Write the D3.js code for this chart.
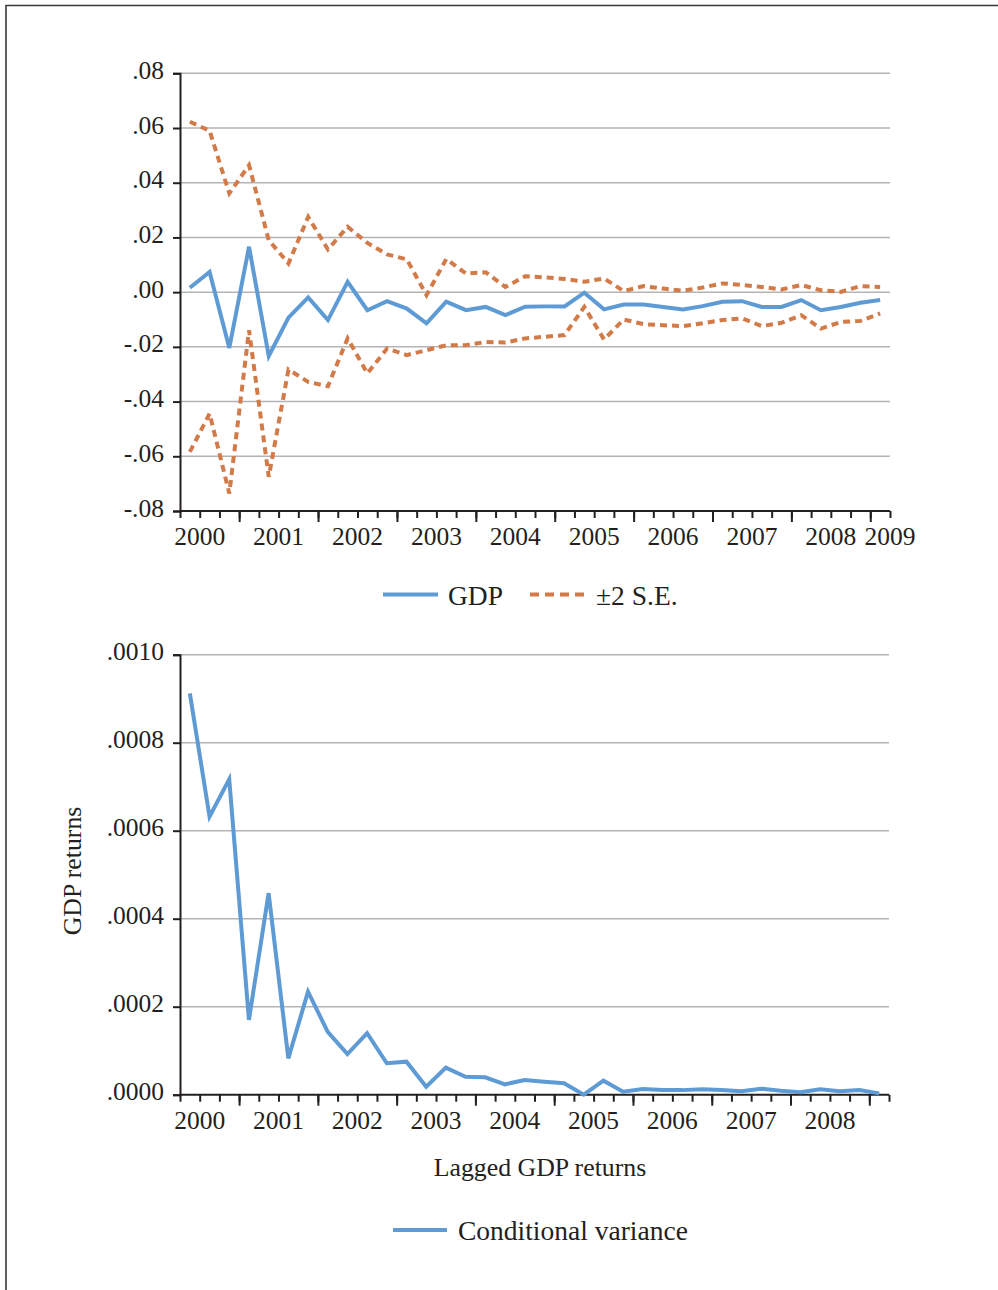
<!DOCTYPE html>
<html>
<head>
<meta charset="utf-8">
<script src="https://cdn.jsdelivr.net/npm/d3@7"></script>
<style>
  html, body { margin: 0; padding: 0; background: #fff; }
  svg { display: block; }
  text { font-family: "Liberation Serif", "Times New Roman", serif; fill: #231f20; }
</style>
</head>
<body>
<svg id="chart" width="998" height="1290"></svg>
<script>
// ---- Data (quarterly, 2000Q2 .. 2009Q1) ----
const quarters = [
  "2000Q2","2000Q3","2000Q4",
  "2001Q1","2001Q2","2001Q3","2001Q4",
  "2002Q1","2002Q2","2002Q3","2002Q4",
  "2003Q1","2003Q2","2003Q3","2003Q4",
  "2004Q1","2004Q2","2004Q3","2004Q4",
  "2005Q1","2005Q2","2005Q3","2005Q4",
  "2006Q1","2006Q2","2006Q3","2006Q4",
  "2007Q1","2007Q2","2007Q3","2007Q4",
  "2008Q1","2008Q2","2008Q3","2008Q4",
  "2009Q1"
];
const gdp = [
  0.0016, 0.0074, -0.0204, 0.0166, -0.0234, -0.0093, -0.0019, -0.0102,
  0.0038, -0.0066, -0.0033, -0.0060, -0.0114, -0.0035, -0.0066, -0.0054,
  -0.0084, -0.0053, -0.0052, -0.0052, -0.0002, -0.0063, -0.0045, -0.0045,
  -0.0054, -0.0063, -0.0051, -0.0035, -0.0033, -0.0054, -0.0054, -0.0029,
  -0.0066, -0.0054, -0.0039, -0.0029
];
const upperSE = [
  0.0623, 0.0590, 0.0361, 0.0464, 0.0190, 0.0105, 0.0275, 0.0156,
  0.0239, 0.0180, 0.0138, 0.0120, -0.0011, 0.0121, 0.0068, 0.0073,
  0.0019, 0.0058, 0.0054, 0.0048, 0.0038, 0.0050, 0.0004, 0.0022,
  0.0013, 0.0005, 0.0017, 0.0032, 0.0026, 0.0019, 0.0010, 0.0026,
  0.0007, 0.0001, 0.0022, 0.0019
];
const lowerSE = [
  -0.0584, -0.0444, -0.0736, -0.0139, -0.0675, -0.0283, -0.0328, -0.0344,
  -0.0169, -0.0297, -0.0206, -0.0230, -0.0212, -0.0194, -0.0194, -0.0182,
  -0.0184, -0.0169, -0.0163, -0.0157, -0.0054, -0.0173, -0.0100, -0.0117,
  -0.0121, -0.0124, -0.0114, -0.0102, -0.0096, -0.0124, -0.0112, -0.0084,
  -0.0133, -0.0109, -0.0105, -0.0078
];
const condVar = [
  0.000912, 0.000632, 0.000717, 0.000170, 0.000458, 0.0000827, 0.000234, 0.000143,
  0.0000925, 0.000140, 0.0000714, 0.0000750, 0.0000182, 0.0000614, 0.0000409, 0.0000395,
  0.0000236, 0.0000334, 0.0000295, 0.0000259, 0.0000000, 0.0000318, 0.0000068, 0.0000130,
  0.0000107, 0.0000104, 0.0000123, 0.0000107, 0.0000077, 0.0000136, 0.0000090, 0.0000055,
  0.0000123, 0.0000077, 0.0000107, 0.0000030
];
const yearsTop = ["2000","2001","2002","2003","2004","2005","2006","2007","2008","2009"];
const yearsBottom = ["2000","2001","2002","2003","2004","2005","2006","2007","2008"];
const topTicks = [0.08, 0.06, 0.04, 0.02, 0.00, -0.02, -0.04, -0.06, -0.08];
const topTickLabels = [".08", ".06", ".04", ".02", ".00", "-.02", "-.04", "-.06", "-.08"];
const botTicks = [0.0010, 0.0008, 0.0006, 0.0004, 0.0002, 0.0000];
const botTickLabels = [".0010", ".0008", ".0006", ".0004", ".0002", ".0000"];
const seriesNames = ["GDP", "\u00b12 S.E.", "Conditional variance"];
const axisTitles = ["GDP returns", "Lagged GDP returns"];

// ---- Styles ----
const BLUE = "#5e9bd5";
const ORANGE = "#d27b48";
const GRID = "#b4b4b4";
const AXIS = "#231f20";
const FS = 25.5;      // tick labels
const FS_TITLE = 25.8; // axis titles
const FS_LEG = 27.5;   // legend

const svg = d3.select("#chart");

// frame
svg.append("path")
  .attr("d", "M6,1290 L6,5.5 L998,5.5")
  .attr("fill", "none").attr("stroke", "#3a3a3a").attr("stroke-width", 1.6);

const n = quarters.length;

function drawPanel(opts) {
  const { top, bottom, left, right, yDomain, ticks, tickLabels, years, series } = opts;
  const g = svg.append("g");
  const xPos = d3.scaleLinear().domain([0, n]).range([left, right]);
  const y = d3.scaleLinear().domain(yDomain).range([bottom, top]);

  // gridlines
  g.append("g").selectAll("line")
    .data(ticks.filter(t => t !== yDomain[0]))
    .join("line")
    .attr("x1", left).attr("x2", right)
    .attr("y1", d => y(d)).attr("y2", d => y(d))
    .attr("stroke", GRID).attr("stroke-width", 1.5);

  // y axis
  const yAxis = d3.axisLeft(y).tickValues(ticks)
    .tickFormat((d, i) => tickLabels[i]).tickSize(7).tickPadding(9);
  const ya = g.append("g").attr("transform", `translate(${left},0)`).call(yAxis);
  ya.select(".domain").attr("stroke", AXIS).attr("stroke-width", 2);
  ya.selectAll(".tick line").attr("stroke", AXIS).attr("stroke-width", 2);
  ya.selectAll(".tick text").attr("font-size", FS)
    .attr("font-family", "Liberation Serif").attr("fill", AXIS).attr("dy", "0.2em");

  // x axis: minor ticks at every quarter boundary, major at year start
  const boundaries = d3.range(0, n + 1);
  const yearStarts = boundaries.filter(k => quarters[k] && quarters[k].endsWith("Q1"));
  const xMinor = d3.axisBottom(xPos).tickValues(boundaries).tickSize(7).tickFormat("");
  const xMajor = d3.axisBottom(xPos).tickValues(yearStarts).tickSize(11).tickFormat("");
  const xa = g.append("g").attr("transform", `translate(0,${bottom})`).call(xMinor);
  xa.select(".domain").attr("stroke", AXIS).attr("stroke-width", 2).attr("d", `M${left},0H${right}`);
  xa.selectAll(".tick line").attr("stroke", AXIS).attr("stroke-width", 2);
  const xb = g.append("g").attr("transform", `translate(0,${bottom})`).call(xMajor);
  xb.select(".domain").remove();
  xb.selectAll(".tick line").attr("stroke", AXIS).attr("stroke-width", 2);

  // year labels, centred on the span of each calendar year (clamped to axis)
  const firstYear = +quarters[0].slice(0, 4);
  const firstQ = +quarters[0].slice(5);
  g.append("g").selectAll("text")
    .data(years)
    .join("text")
    .attr("x", d => {
      const startIdx = (+d - firstYear) * 4 - (firstQ - 1);
      const c = Math.min(startIdx + 2, n);
      return xPos(c);
    })
    .attr("y", bottom + 34)
    .attr("text-anchor", "middle")
    .attr("font-size", FS)
    .text(d => d);

  // series
  series.forEach(s => {
    const line = d3.line()
      .x((d, i) => xPos(i + 0.5))
      .y(d => y(d));
    g.append("path")
      .datum(s.values)
      .attr("d", line)
      .attr("fill", "none")
      .attr("stroke", s.color)
      .attr("stroke-width", 4)
      .attr("stroke-linejoin", "miter")
      .attr("stroke-dasharray", s.dash || null);
  });
  return { xPos, y };
}

drawPanel({
  top: 73.3, bottom: 511, left: 180, right: 890,
  yDomain: [-0.08, 0.08], ticks: topTicks, tickLabels: topTickLabels,
  years: yearsTop,
  series: [
    { values: upperSE, color: ORANGE, dash: "7,5" },
    { values: lowerSE, color: ORANGE, dash: "7,5" },
    { values: gdp, color: BLUE }
  ]
});

drawPanel({
  top: 654.7, bottom: 1094.7, left: 180, right: 889,
  yDomain: [0, 0.0010], ticks: botTicks, tickLabels: botTickLabels,
  years: yearsBottom,
  series: [
    { values: condVar, color: BLUE }
  ]
});

// legend (top)
const leg1 = svg.append("g");
leg1.append("line").attr("x1", 383).attr("x2", 438).attr("y1", 594.5).attr("y2", 594.5)
  .attr("stroke", BLUE).attr("stroke-width", 4);
leg1.append("text").attr("x", 448).attr("y", 604.5).attr("font-size", FS_LEG).text(seriesNames[0]);
leg1.append("line").attr("x1", 530).attr("x2", 586).attr("y1", 594.5).attr("y2", 594.5)
  .attr("stroke", ORANGE).attr("stroke-width", 4).attr("stroke-dasharray", "9,6");
leg1.append("text").attr("x", 596).attr("y", 604.5).attr("font-size", FS_LEG).text(seriesNames[1]);

// axis titles (bottom panel)
svg.append("text")
  .attr("transform", "translate(81,871) rotate(-90)")
  .attr("text-anchor", "middle").attr("font-size", FS_TITLE).text(axisTitles[0]);
svg.append("text")
  .attr("x", 540).attr("y", 1176)
  .attr("text-anchor", "middle").attr("font-size", FS_TITLE).text(axisTitles[1]);

// legend (bottom)
const leg2 = svg.append("g");
leg2.append("line").attr("x1", 393).attr("x2", 447).attr("y1", 1230).attr("y2", 1230)
  .attr("stroke", BLUE).attr("stroke-width", 4);
leg2.append("text").attr("x", 458).attr("y", 1239.5).attr("font-size", FS_LEG).text(seriesNames[2]);
</script>
</body>
</html>
